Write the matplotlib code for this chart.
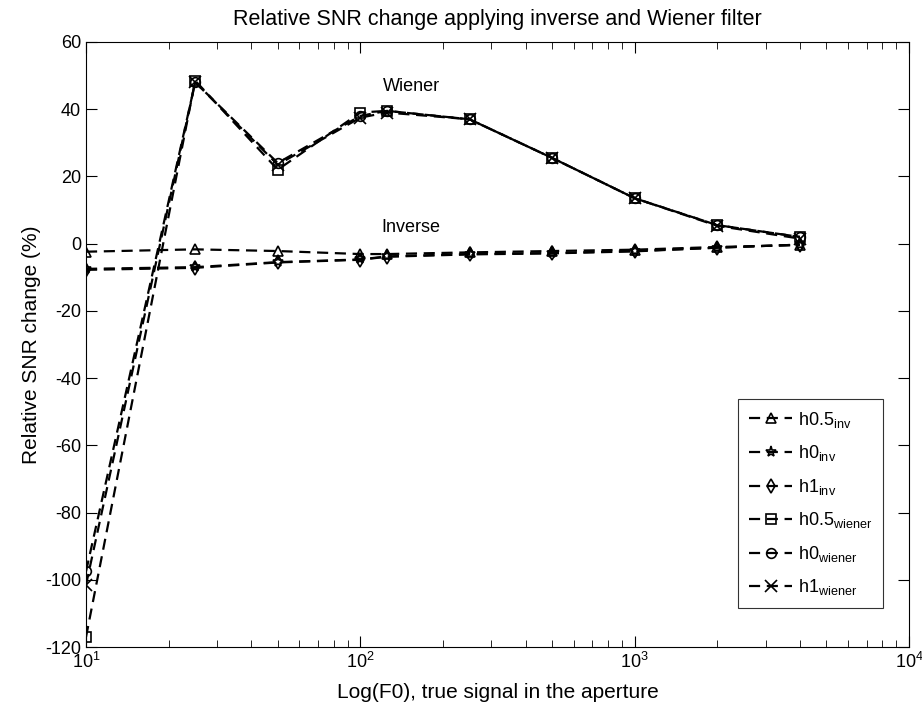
import matplotlib
matplotlib.use("Agg")
import matplotlib.pyplot as plt
from matplotlib.ticker import LogLocator, FixedLocator

plt.rcParams['font.family'] = ['Liberation Sans', 'DejaVu Sans']
plt.rcParams['mathtext.fontset'] = 'custom'
plt.rcParams['mathtext.rm'] = 'Liberation Sans'
plt.rcParams['mathtext.it'] = 'Liberation Sans'
plt.rcParams['axes.unicode_minus'] = False

# True signal in the aperture (F0)
f0 = [10, 25, 50, 100, 125, 250, 500, 1000, 2000, 4000]

# Relative SNR change (%) for the inverse filter
h05_inv = [-2.4, -1.7, -2.2, -3.1, -3.1, -2.6, -2.2, -1.8, -1.0, -0.4]
h0_inv = [-7.5, -7.0, -5.5, -4.7, -3.8, -3.1, -2.8, -2.2, -1.2, -0.3]
h1_inv = [-7.8, -7.2, -5.6, -4.8, -3.9, -3.2, -2.9, -2.3, -1.2, -0.3]

# Relative SNR change (%) for the Wiener filter
h05_wiener = [-117, 48.5, 22, 39, 39.5, 37, 25.5, 13.5, 5.5, 2]
h0_wiener = [-97.5, 48, 24, 38, 39.5, 37, 25.5, 13.5, 5.5, 2]
h1_wiener = [-101.5, 48, 23.5, 37.5, 39, 37, 25.5, 13.5, 5.3, 1.5]

series = [
    (h05_inv, '^', 7, r'h0.5$_{\mathrm{inv}}$'),
    (h0_inv, '*', 8, r'h0$_{\mathrm{inv}}$'),
    (h1_inv, 'd', 7, r'h1$_{\mathrm{inv}}$'),
    (h05_wiener, 's', 7, r'h0.5$_{\mathrm{wiener}}$'),
    (h0_wiener, 'o', 7, r'h0$_{\mathrm{wiener}}$'),
    (h1_wiener, 'x', 8, r'h1$_{\mathrm{wiener}}$'),
]

fig = plt.figure(figsize=(9.22, 7.11), dpi=100)
ax = fig.add_axes([0.0933, 0.090, 0.8926, 0.851])

for vals, mk, ms, lab in series:
    ax.plot(f0, vals, color='black', linestyle=(0, (5, 3)), linewidth=1.6,
            marker=mk, markersize=ms, markerfacecolor='none',
            markeredgecolor='black', markeredgewidth=1.2, label=lab)

ax.set_xscale('log')
ax.set_xlim(10, 1e4)
ax.set_ylim(-120, 60)
ax.yaxis.set_major_locator(FixedLocator(range(-120, 61, 20)))
ax.xaxis.set_major_locator(LogLocator(base=10))
ax.xaxis.set_minor_locator(LogLocator(base=10, subs=range(2, 10)))
ax.tick_params(which='both', direction='in', top=True, right=True,
               labelsize=13)
ax.tick_params(which='major', length=8)
ax.tick_params(which='minor', length=5)

ax.text(153, 46.7, 'Wiener', fontsize=13, ha='center', va='center')
ax.text(153, 4.7, 'Inverse', fontsize=13, ha='center', va='center')

ax.set_title('Relative SNR change applying inverse and Wiener filter',
             fontsize=15.5, pad=12)
ax.set_xlabel('Log(F0), true signal in the aperture', fontsize=15,
              labelpad=8)
ax.set_ylabel('Relative SNR change (%)', fontsize=15, labelpad=3)

leg = ax.legend(loc='lower right', bbox_to_anchor=(0.968, 0.064),
                borderaxespad=0, fontsize=13, frameon=True, fancybox=False,
                edgecolor='black', handlelength=2.4, handletextpad=0.3,
                labelspacing=0.75, borderpad=0.6)
leg.get_frame().set_linewidth(0.8)

fig.savefig('out.png', dpi=100)
